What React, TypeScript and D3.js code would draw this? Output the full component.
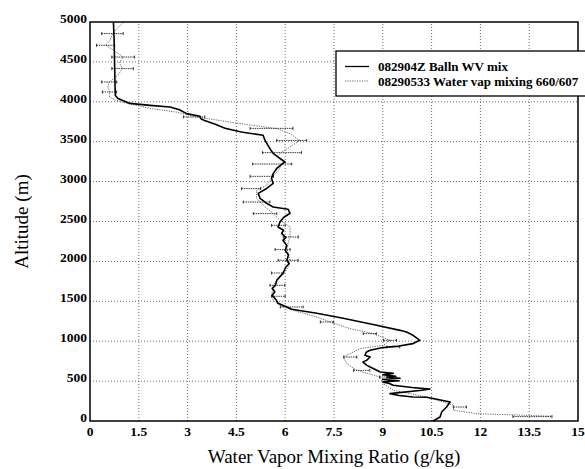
import React, { useRef, useEffect } from "react";
import * as d3 from "d3";

// balloon sounding (solid): altitude m, mixing ratio g/kg
const balloon = [
  [5000, 0.72], [4800, 0.74], [4600, 0.75], [4400, 0.76], [4200, 0.77], [4080, 0.78],
  [4040, 0.86], [3980, 1.23], [3955, 1.84], [3935, 2.46], [3900, 2.75], [3852, 2.97],
  [3818, 3.38], [3790, 3.4], [3768, 3.5], [3720, 3.85], [3668, 4.15], [3622, 4.65],
  [3580, 5.32], [3516, 5.38], [3455, 5.47], [3400, 5.55], [3355, 5.63], [3292, 5.84],
  [3245, 6.0], [3229, 5.93], [3170, 5.75], [3100, 5.63], [3040, 5.58], [2978, 5.63],
  [2914, 5.43], [2852, 5.17], [2789, 5.23], [2727, 5.43], [2682, 5.63], [2653, 6.09],
  [2603, 6.15], [2550, 5.95], [2494, 5.84], [2431, 5.78], [2390, 5.95], [2352, 5.89],
  [2300, 6.02], [2264, 5.93], [2200, 6.05], [2139, 6.0], [2080, 6.1], [2014, 6.05],
  [1970, 6.12], [1930, 6.02], [1851, 5.93], [1800, 5.82], [1763, 5.74], [1700, 5.7],
  [1663, 5.6], [1620, 5.68], [1575, 5.6], [1520, 5.72], [1475, 5.78], [1429, 6.05],
  [1400, 6.2], [1350, 6.97], [1287, 7.78], [1199, 8.81], [1136, 9.53], [1115, 9.73],
  [1074, 9.93], [1011, 10.14], [970, 9.93], [940, 9.5], [920, 9.0], [886, 8.61],
  [865, 8.5], [824, 8.45], [802, 8.61], [760, 8.5], [739, 8.39], [700, 8.5], [677, 8.61],
  [640, 8.8], [614, 8.92], [597, 9.32], [580, 9.0], [560, 9.4], [551, 9.12], [535, 9.53],
  [520, 9.0], [505, 9.5], [489, 9.0], [470, 9.2], [447, 9.32], [420, 9.9], [400, 10.45],
  [385, 10.2], [343, 9.22], [320, 9.5], [301, 9.93], [297, 10.35], [270, 10.7],
  [238, 11.07], [200, 11.0], [175, 10.96], [113, 10.81], [50, 10.76], [0, 10.55]
];

// lidar profile (dotted): altitude m, mixing ratio g/kg
const lidar = [
  [5000, 1.05], [4930, 0.85], [4855, 0.69], [4770, 0.62], [4708, 0.48], [4640, 0.75],
  [4561, 1.02], [4490, 0.9], [4416, 1.0], [4330, 0.85], [4248, 0.59], [4185, 0.55],
  [4123, 0.6], [4060, 0.6], [4019, 0.8], [3981, 1.13], [3918, 1.84], [3870, 2.66],
  [3810, 3.28], [3727, 4.61], [3664, 5.74], [3601, 6.15], [3516, 6.45], [3434, 6.15],
  [3371, 5.89], [3308, 5.74], [3245, 5.94], [3141, 5.79], [3041, 5.58], [2953, 5.43],
  [2891, 5.12], [2790, 5.12], [2682, 5.38], [2599, 5.63], [2515, 5.84], [2431, 6.15],
  [2327, 6.15], [2243, 6.1], [2160, 6.05], [2080, 6.1], [2014, 6.15], [1940, 6.1],
  [1867, 6.0], [1784, 5.79], [1700, 5.63], [1596, 5.59], [1512, 5.63], [1450, 5.84],
  [1387, 6.25], [1303, 6.97], [1241, 7.38], [1158, 7.99], [1095, 8.71], [1011, 9.22],
  [949, 9.02], [907, 8.3], [802, 7.79], [719, 7.89], [635, 8.2], [551, 8.92],
  [468, 9.02], [385, 9.32], [343, 9.84], [301, 10.35], [238, 10.86], [197, 11.17],
  [134, 11.17], [92, 11.89], [60, 14.2]
];

// lidar error bars: altitude, centre, half width
const lidarErr = [
  [4855, 0.69, 0.33], [4708, 0.48, 0.28], [4561, 1.02, 0.35], [4416, 1.0, 0.33],
  [4248, 0.59, 0.23], [4123, 0.6, 0.22], [3810, 3.2, 0.33], [3667, 5.58, 0.66],
  [3516, 6.2, 0.46], [3363, 5.9, 0.6], [3220, 5.6, 0.6], [3066, 5.28, 0.36],
  [2912, 4.95, 0.29], [2744, 5.12, 0.41], [2599, 5.38, 0.36], [2452, 5.79, 0.21],
  [2306, 6.17, 0.23], [2148, 5.92, 0.23], [2014, 6.09, 0.31], [1855, 5.76, 0.18],
  [1700, 5.76, 0.23], [1563, 5.79, 0.21], [1429, 6.2, 0.35], [1241, 7.28, 0.2],
  [1095, 8.6, 0.2], [1011, 9.22, 0.2], [928, 9.32, 0.2], [802, 8.0, 0.2],
  [635, 8.35, 0.25], [551, 9.1, 0.2], [175, 11.37, 0.2], [55, 13.6, 0.6]
];

const xTicks = [0, 1.5, 3, 4.5, 6, 7.5, 9, 10.5, 12, 13.5, 15];
const yTicks = [0, 500, 1000, 1500, 2000, 2500, 3000, 3500, 4000, 4500, 5000];
const legendLabels = ["082904Z Balln WV mix", "08290533 Water vap mixing 660/607"];

const serif = "'Liberation Serif', 'DejaVu Serif', serif";

export default function App() {
  const ref = useRef<SVGSVGElement>(null);
  const width = 585;
  const height = 469;

  useEffect(() => {
    const margin = { top: 22, right: 7, bottom: 48, left: 90 };
    const svg = d3.select(ref.current);
    svg.selectAll("*").remove();

    const x = d3.scaleLinear().domain([0, 15]).range([margin.left, width - margin.right]);
    const y = d3.scaleLinear().domain([0, 5000]).range([height - margin.bottom, margin.top]);

    svg.append("rect").attr("width", width).attr("height", height).attr("fill", "#fff");

    // grid
    const grid = svg.append("g").attr("stroke", "#444").attr("stroke-width", 0.8).attr("stroke-dasharray", "1,2");
    xTicks.slice(1, -1).forEach(t => {
      grid.append("line").attr("x1", x(t)).attr("x2", x(t)).attr("y1", y(0)).attr("y2", y(5000));
    });
    yTicks.slice(1, -1).forEach(t => {
      grid.append("line").attr("x1", x(0)).attr("x2", x(15)).attr("y1", y(t)).attr("y2", y(t));
    });

    // lidar dotted line
    const line = d3.line<number[]>().x(d => x(d[1])).y(d => y(d[0]));
    svg.append("path")
      .attr("d", line(lidar))
      .attr("fill", "none")
      .attr("stroke", "#555")
      .attr("stroke-width", 0.9)
      .attr("stroke-dasharray", "1.2,1.2");

    // error bars
    const eb = svg.append("g").attr("stroke", "#222").attr("stroke-width", 0.9);
    lidarErr.forEach(([a, v, e]) => {
      const yy = y(a);
      eb.append("line").attr("x1", x(v - e)).attr("x2", x(v + e)).attr("y1", yy).attr("y2", yy)
        .attr("stroke-dasharray", "1.5,0.8");
      eb.append("line").attr("x1", x(v - e)).attr("x2", x(v - e)).attr("y1", yy - 1.5).attr("y2", yy + 1.5);
      eb.append("line").attr("x1", x(v + e)).attr("x2", x(v + e)).attr("y1", yy - 1.5).attr("y2", yy + 1.5);
    });

    // balloon solid line
    svg.append("path")
      .attr("d", line(balloon))
      .attr("fill", "none")
      .attr("stroke", "#000")
      .attr("stroke-width", 1.6)
      .attr("stroke-linejoin", "round");

    // frame
    svg.append("rect")
      .attr("x", x(0)).attr("y", y(5000))
      .attr("width", x(15) - x(0)).attr("height", y(0) - y(5000))
      .attr("fill", "none").attr("stroke", "#000").attr("stroke-width", 1.5);

    // tick labels
    svg.append("g").selectAll("text").data(xTicks).join("text")
      .attr("x", d => x(d)).attr("y", y(0) + 15)
      .attr("text-anchor", "middle")
      .attr("font-family", serif).attr("font-size", 13.5).attr("font-weight", "bold")
      .text(d => String(d));
    svg.append("g").selectAll("text").data(yTicks).join("text")
      .attr("x", x(0) - 3).attr("y", d => y(d) + 1)
      .attr("text-anchor", "end")
      .attr("font-family", serif).attr("font-size", 13.5).attr("font-weight", "bold")
      .text(d => String(d));

    // axis titles
    svg.append("text")
      .attr("x", (x(0) + x(15)) / 2).attr("y", 463)
      .attr("text-anchor", "middle")
      .attr("font-family", serif).attr("font-size", 19)
      .text("Water Vapor Mixing Ratio (g/kg)");
    svg.append("text")
      .attr("transform", `translate(28,${(y(0) + y(5000)) / 2}) rotate(-90)`)
      .attr("text-anchor", "middle")
      .attr("font-family", serif).attr("font-size", 19)
      .text("Altitude (m)");

    // legend
    const lg = svg.append("g");
    lg.append("rect").attr("x", 336).attr("y", 51).attr("width", 260).attr("height", 45)
      .attr("fill", "#fff").attr("stroke", "#000").attr("stroke-width", 1.3);
    lg.append("line").attr("x1", 345).attr("x2", 369).attr("y1", 66.5).attr("y2", 66.5)
      .attr("stroke", "#000").attr("stroke-width", 1.3);
    lg.append("line").attr("x1", 345).attr("x2", 369).attr("y1", 81).attr("y2", 81)
      .attr("stroke", "#555").attr("stroke-width", 0.9).attr("stroke-dasharray", "1.2,1.2");
    legendLabels.forEach((t, i) => {
      lg.append("text").attr("x", 378).attr("y", 71 + i * 14.5)
        .attr("font-family", serif).attr("font-size", 13).attr("font-weight", "bold")
        .text(t);
    });
  }, []);

  return (
    <svg ref={ref} width={width} height={height}
      style={{ position: "absolute", left: 0, top: 0, display: "block" }} />
  );
}
